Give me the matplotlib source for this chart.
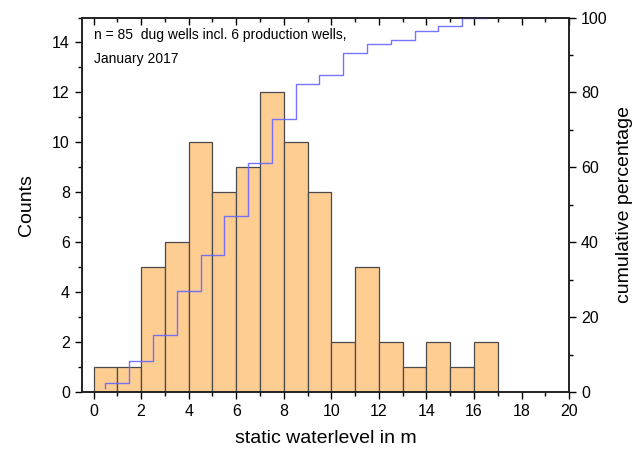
import numpy as np
import matplotlib
matplotlib.use("Agg")
import matplotlib.pyplot as plt
from matplotlib.ticker import MultipleLocator

plt.rcParams['font.family'] = ['Liberation Sans', 'DejaVu Sans']

# histogram of static water level (1 m bins)
bin_left = np.arange(0, 17)
counts = [1, 1, 5, 6, 10, 8, 9, 12, 10, 8, 2, 5, 2, 1, 2, 1, 2]

bin_centers = bin_left + 0.5
cum_pct = np.cumsum(counts) / np.sum(counts) * 100

fig = plt.figure(figsize=(6.38, 4.49), dpi=100)
ax1 = fig.add_axes([0.128, 0.127, 0.764, 0.834])

ax1.bar(bin_left, counts, width=1.0, align='edge', color='#fecd92',
        edgecolor='#4a4a4a', linewidth=0.9, zorder=2)

ax1.set_xlim(-0.5, 20)
ax1.set_ylim(0, 15)
ax1.xaxis.set_major_locator(MultipleLocator(2))
ax1.xaxis.set_minor_locator(MultipleLocator(1))
ax1.yaxis.set_major_locator(MultipleLocator(2))
ax1.yaxis.set_minor_locator(MultipleLocator(1))
ax1.tick_params(axis='both', which='major', direction='out', length=5, width=1, labelsize=11.5)
ax1.tick_params(axis='both', which='minor', direction='out', length=3, width=1)
ax1.tick_params(axis='x', which='both', top=True)
ax1.set_xlabel('static waterlevel in m', fontsize=14, labelpad=8)
ax1.set_ylabel('Counts', fontsize=14, labelpad=12)
for s in ax1.spines.values():
    s.set_linewidth(1.2)
    s.set_color('#222222')

# top axis ticks point inward
for t in ax1.xaxis.get_major_ticks() + ax1.xaxis.get_minor_ticks():
    t.tick2line.set_marker(3)

ax2 = ax1.twinx()
ax2.plot(bin_centers, cum_pct, drawstyle='steps-pre', color='#6666ff',
         linewidth=1.0, alpha=0.9, zorder=1)
ax2.set_ylim(0, 100)
ax2.yaxis.set_major_locator(MultipleLocator(20))
ax2.yaxis.set_minor_locator(MultipleLocator(10))
ax2.tick_params(axis='y', which='major', direction='out', length=5, width=1, labelsize=11.5)
ax2.tick_params(axis='y', which='minor', direction='out', length=3, width=1)
ax2.set_ylabel('cumulative percentage', fontsize=14, labelpad=6)
for s in ax2.spines.values():
    s.set_linewidth(1.2)
    s.set_color('#222222')

ax1.text(0, 14.3, 'n = 85  dug wells incl. 6 production wells,', fontsize=10,
         ha='left', va='center')
ax1.text(0, 13.35, 'January 2017', fontsize=10, ha='left', va='center')

fig.savefig('out.png', dpi=100)
